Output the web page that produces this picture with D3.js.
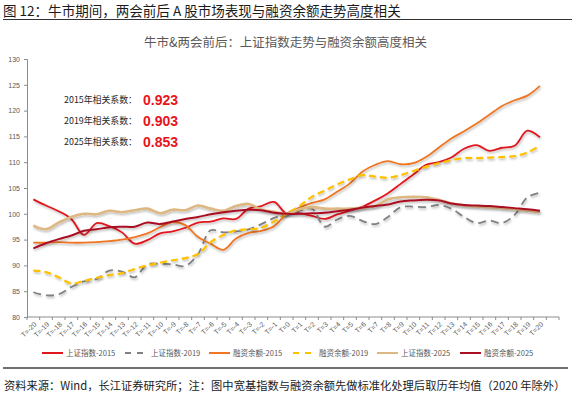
<!DOCTYPE html>
<html><head><meta charset="utf-8">
<script src="https://cdn.jsdelivr.net/npm/d3@7"></script>
<style>
body{margin:0;background:#fff;}
svg{display:block;font-family:"Noto Sans CJK SC","Noto Sans",sans-serif;}
</style></head>
<body><svg id="c" width="585" height="397"></svg>
<script>
const tLabels = ["T=-20","T=-19","T=-18","T=-17","T=-16","T=-15","T=-14","T=-13","T=-12","T=-11","T=-10","T=-9","T=-8","T=-7","T=-6","T=-5","T=-4","T=-3","T=-2","T=-1","T=0","T=1","T=2","T=3","T=4","T=5","T=6","T=7","T=8","T=9","T=10","T=11","T=12","T=13","T=14","T=15","T=16","T=17","T=18","T=19","T=20"];
const yTicks = [80,85,90,95,100,105,110,115,120,125,130];

const szzs2015 = [102.8,101.6,100.5,99.0,95.9,98.2,97.6,96.4,94.2,94.9,96.2,96.6,97.3,98.3,98.5,99.1,99.0,101.0,101.5,102.3,100.0,100.1,99.6,99.0,99.9,100.6,101.4,102.6,104.0,105.8,107.6,109.5,110.0,110.9,112.6,113.3,112.2,112.8,113.2,116.1,114.8];
const szzs2019 = [84.8,84.2,84.4,85.8,86.9,87.4,89.0,88.8,87.7,90.2,90.3,90.2,89.9,92.2,96.8,96.4,96.6,97.0,98.0,99.2,100.0,100.6,101.0,97.5,98.9,99.6,98.6,98.0,99.4,101.3,101.4,101.3,101.7,101.0,99.4,98.2,98.7,98.2,99.8,103.2,104.1];
const rzye2015 = [94.4,94.4,94.5,94.4,94.4,94.5,94.7,95.0,95.5,96.2,97.4,98.4,97.8,95.5,94.2,93.0,95.2,96.3,96.7,97.6,100.0,101.2,102.1,102.8,104.3,105.9,108.2,109.5,110.2,109.6,109.8,111.0,112.8,114.6,116.0,117.5,119.2,120.9,122.0,122.9,124.8];
const rzye2019 = [89.0,88.7,87.7,86.5,87.0,87.6,88.1,88.5,89.3,90.0,90.5,91.0,91.4,92.2,94.5,95.9,96.8,97.0,97.3,98.5,100.0,101.5,103.3,104.5,105.7,106.7,107.5,107.2,107.0,107.5,108.3,109.1,109.8,110.4,110.8,110.8,110.9,111.0,111.2,111.9,113.2];
const szzs2025 = [97.7,97.0,98.3,99.4,100.0,99.9,100.6,100.3,100.7,101.0,100.1,100.8,100.7,101.6,101.0,100.6,101.5,101.9,100.8,100.4,100.0,100.9,101.3,101.0,101.0,101.0,101.2,101.5,102.8,103.2,103.3,103.2,102.7,102.0,101.6,101.4,101.3,101.1,100.9,100.6,100.3];
const rzye2025 = [93.3,94.3,95.1,95.8,96.7,97.0,97.4,97.5,97.5,98.3,98.0,98.5,99.0,99.4,99.9,100.3,100.6,100.8,100.7,100.2,100.0,100.0,100.1,100.2,100.5,100.8,101.2,101.5,101.8,102.4,102.6,102.7,102.6,102.0,101.7,101.6,101.5,101.3,101.1,100.9,100.6];

const seriesNames = ["上证指数-2015","上证指数-2019","融资余额-2015","融资余额-2019","上证指数-2025","融资余额-2025"];
const corrLabels = ["2015年相关系数：","2019年相关系数：","2025年相关系数："];
const corrValues = ["0.923","0.903","0.853"];
const titleText = "图  12：牛市期间，两会前后 A 股市场表现与融资余额走势高度相关";
const chartTitle = "牛市&两会前后：上证指数走势与融资余额高度相关";
const sourceText = "资料来源：Wind，长江证券研究所；注：图中宽基指数与融资余额先做标准化处理后取历年均值（2020 年除外）";

const series = [
  {name:seriesNames[0], values:szzs2015, color:"#E0181E", dash:null, w:1.8},
  {name:seriesNames[1], values:szzs2019, color:"#808080", dash:"8,5", w:1.8},
  {name:seriesNames[2], values:rzye2015, color:"#EE7624", dash:null, w:1.8},
  {name:seriesNames[3], values:rzye2019, color:"#FFC000", dash:"7,4", w:2.2},
  {name:seriesNames[4], values:szzs2025, color:"#DDB883", dash:null, w:2.6},
  {name:seriesNames[5], values:rzye2025, color:"#AA0F24", dash:null, w:2.0}
];

const svg = d3.select("#c");
const defs = svg.append("defs");
const f = defs.append("filter").attr("id","sh").attr("x","-10%").attr("y","-10%").attr("width","120%").attr("height","130%");
f.append("feDropShadow").attr("dx",0.8).attr("dy",1.6).attr("stdDeviation",1.2).attr("flood-color","#000").attr("flood-opacity",0.28);

// fit a text's font size to a target width
function fit(sel, target){
  const n = sel.node();
  const fs = parseFloat(sel.attr("font-size"));
  const w = n.getComputedTextLength();
  if (w>0) sel.attr("font-size", (fs*target/w).toFixed(2));
  return sel;
}

// header
fit(svg.append("text").attr("x",3).attr("y",16).attr("font-size",13.5).attr("fill","#1a1a1a").text(titleText), 398);
svg.append("line").attr("x1",3).attr("x2",572).attr("y1",19.5).attr("y2",19.5).attr("stroke","#333").attr("stroke-width",1);
fit(svg.append("text").attr("x",285.5).attr("y",42.5).attr("dy","0.35em").attr("text-anchor","middle").attr("font-size",12.5).attr("fill","#595959").text(chartTitle), 283);

const axisEnd = 559;
const bandW = (axisEnd-27)/42;
const x = d3.scaleBand().domain(tLabels).range([27, 27+bandW*41]).padding(0);
const y = d3.scaleLinear().domain([80,130]).range([317,59]);
const cx = d => x(d)+x.bandwidth()/2;

// y axis
const ya = svg.append("g").attr("transform","translate(27,0)")
  .call(d3.axisLeft(y).tickValues(yTicks).tickSize(3).tickPadding(4));
ya.select(".domain").attr("stroke","#8c8c8c");
ya.selectAll(".tick line").attr("stroke","#8c8c8c");
ya.selectAll("text").attr("font-size",7).attr("fill","#595959").attr("font-family","Liberation Sans, Arial, sans-serif");

// x axis
const xg = svg.append("g").attr("transform","translate(0,317)");
xg.append("line").attr("x1",27).attr("x2",axisEnd).attr("stroke","#8c8c8c");
const bounds = tLabels.map(d=>x(d)).concat([27+bandW*41, axisEnd]);
xg.selectAll("line.tk").data(bounds).join("line").attr("class","tk")
  .attr("x1",d=>d).attr("x2",d=>d).attr("y1",0).attr("y2",3).attr("stroke","#8c8c8c");
xg.selectAll("text").data(tLabels).join("text")
  .attr("transform",d=>`translate(${cx(d)+2},${6}) rotate(-45)`)
  .attr("text-anchor","end").attr("dy","0.35em")
  .attr("font-size",7).attr("fill","#595959").attr("font-family","Liberation Sans, Arial, sans-serif")
  .text(d=>d);

// lines
const line = d3.line().x((v,i)=>cx(tLabels[i])).y(v=>y(v)).curve(d3.curveCatmullRom.alpha(0.5));
const lg = svg.append("g");
series.forEach(s=>{
  lg.append("path").datum(s.values).attr("d",line).attr("fill","none")
    .attr("stroke",s.color).attr("stroke-width",s.w)
    .attr("stroke-dasharray",s.dash).attr("stroke-linecap","butt")
    .attr("filter","url(#sh)");
});

// correlation annotations
const cy = [100,120.7,141.5];
corrLabels.forEach((t,i)=>{
  fit(svg.append("text").attr("x",137).attr("y",cy[i]).attr("dy","0.35em").attr("text-anchor","end")
    .attr("font-size",10.5).attr("fill","#262626").text(t), 73);
  svg.append("text").attr("x",143).attr("y",cy[i]).attr("dy","0.36em")
    .attr("font-size",14).attr("font-weight","bold").attr("fill","#E8141C")
    .attr("font-family","Liberation Sans, Arial, sans-serif").text(corrValues[i]);
});

// legend
const legX = [42,125,209,293,377,460];
const legY = 353;
series.forEach((s,i)=>{
  const g = svg.append("g");
  g.append("line").attr("x1",legX[i]).attr("x2",legX[i]+21).attr("y1",legY).attr("y2",legY)
    .attr("stroke",s.color).attr("stroke-width",s.dash?1.8:2).attr("stroke-dasharray",s.dash?"6,6":null);
  g.append("text").attr("x",legX[i]+(s.dash?26:24)).attr("y",legY).attr("dy","0.35em")
    .attr("font-size",7.5).attr("fill","#595959").text(s.name);
});

// footer
svg.append("line").attr("x1",3).attr("x2",568).attr("y1",368).attr("y2",368).attr("stroke","#404040").attr("stroke-width",1.3);
fit(svg.append("text").attr("x",4).attr("y",386).attr("dy","0.35em").attr("font-size",12.6).attr("fill","#1a1a1a").text(sourceText), 562);
</script></body></html>
